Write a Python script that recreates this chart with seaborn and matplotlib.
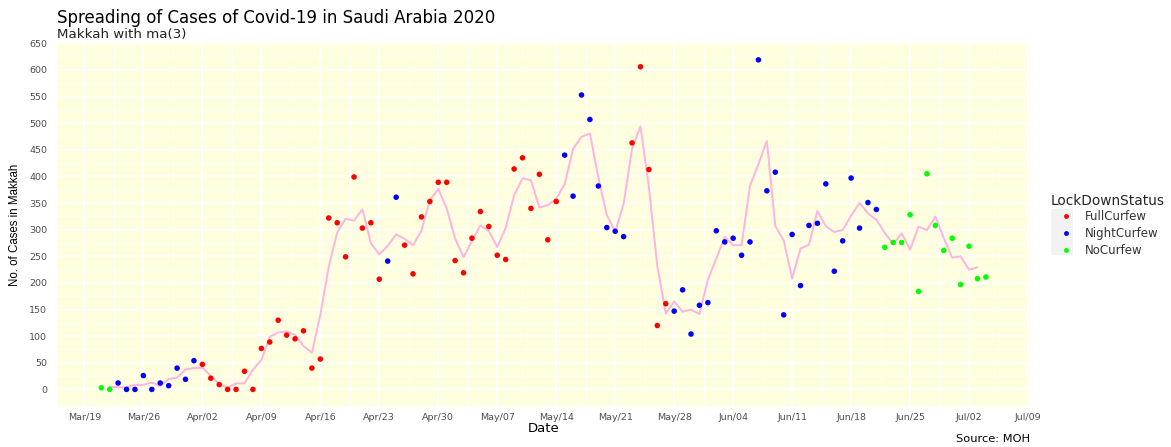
import pandas as pd
import numpy as np
import seaborn as sns
import matplotlib.pyplot as plt
import matplotlib.dates as mdates
from matplotlib.patches import Rectangle

# daily new cases in Makkah, 2020-03-21 .. 2020-07-04
start_date = "2020-03-21"
cases = [3, 0, 12, 0, 0, 26, 0, 12, 7, 40, 19, 54,
         47, 21, 9, 0, 0, 34, 0, 77, 89, 130, 102, 95, 110, 40, 57,
         322, 313, 249, 399, 303, 313, 207, 241, 361, 271, 217, 324, 353, 389,
         389, 242, 219, 284, 334, 306, 252, 244, 414, 435, 340, 404, 281, 353,
         440, 363, 553, 507, 382, 304, 297, 287,
         463, 606, 413, 120, 161,
         147, 187, 104, 158, 163, 298, 277, 284, 252, 277, 619, 373, 408, 140,
         291, 195, 308, 312, 386, 222, 279, 397, 303, 351, 338,
         267, 276, 276, 328, 184, 405, 308, 261, 284, 197, 269, 208, 211]

status = (["NoCurfew"] * 2 + ["NightCurfew"] * 10 + ["FullCurfew"] * 22
          + ["NightCurfew"] * 2 + ["FullCurfew"] * 19 + ["NightCurfew"] * 8
          + ["FullCurfew"] * 5 + ["NightCurfew"] * 25 + ["NoCurfew"] * 13)

status_levels = ["FullCurfew", "NightCurfew", "NoCurfew"]
status_colors = ["#FF0000", "#0000FF", "#00FF00"]

df = pd.DataFrame({
    "Date": pd.date_range(start_date, periods=len(cases), freq="D"),
    "Cases": cases,
    "LockDownStatus": status,
})
df["ma3"] = df["Cases"].rolling(3, center=True).mean()

sns.set_style("white")
plt.rcParams["font.family"] = ["DejaVu Sans"]

fig = plt.figure(figsize=(11.71, 4.47), dpi=100)
ax = fig.add_axes([0.0487, 0.092, 0.831, 0.811])
ax.set_facecolor("#FFFFE0")

sns.scatterplot(data=df, x="Date", y="Cases", hue="LockDownStatus",
                hue_order=status_levels, palette=status_colors,
                s=16, edgecolor="none", ax=ax, zorder=3, legend=False)
sns.lineplot(data=df, x="Date", y="ma3", color="#FFB3DE", lw=1.4, ax=ax, zorder=2)

# axis limits with ggplot-like 5% expansion
d0, d1 = df["Date"].min(), df["Date"].max()
span = d1 - d0
ax.set_xlim(d0 - span * 0.05, d1 + span * 0.05)
ymax = max(cases)
ax.set_ylim(-ymax * 0.05, ymax * 1.05)

xt = pd.date_range("2020-03-19", "2020-07-09", freq="7D")
ax.set_xticks(xt)
ax.set_xticks(xt[:-1] + pd.Timedelta(hours=84), minor=True)
ax.xaxis.set_major_formatter(mdates.DateFormatter("%b/%d"))
ax.set_yticks(np.arange(0, 651, 50))
ax.set_yticks(np.arange(25, 651, 50), minor=True)

ax.grid(True, which="major", color="white", lw=1.1)
ax.grid(True, which="minor", color="white", lw=0.5)
ax.set_axisbelow(True)
for sp in ax.spines.values():
    sp.set_visible(False)
ax.tick_params(which="major", length=3, width=0.8, color="#333333",
               labelsize=6.8, labelcolor="#4D4D4D")
ax.tick_params(axis="x", pad=2)
ax.tick_params(axis="y", pad=4)
ax.tick_params(which="minor", length=0)

ax.set_xlabel("Date", fontsize=9.5, color="black", labelpad=0)
ax.set_ylabel("No. of Cases in Makkah", fontsize=8.3, color="black", labelpad=6,
              family=["Liberation Sans", "DejaVu Sans"])

fig.text(0.0487, 0.9485, "Spreading of Cases of Covid-19 in Saudi Arabia 2020",
         fontsize=12, ha="left", va="baseline", color="black")
fig.text(0.0487, 0.916, "Makkah with ma(3)", fontsize=9.6, ha="left",
         va="baseline", color="#222222")
fig.text(0.8796, 0.012, "Source: MOH", fontsize=8.2, ha="right",
         va="baseline", color="black")

# legend drawn like ggplot: title + keys on a light grey key strip
fig.text(0.8975, 0.541, "LockDownStatus", fontsize=9.9, ha="left", va="baseline")
fig.patches.append(Rectangle((0.8975, 0.4295), 0.0188, 0.103,
                             transform=fig.transFigure, facecolor="#F2F2F2",
                             edgecolor="none", zorder=0))
handles = [plt.Line2D([], [], ls="", marker="o", ms=3.5, mec="none", color=c)
           for c in status_colors]
fig.legend(handles, status_levels, loc="upper left",
           bbox_to_anchor=(0.8935, 0.553), frameon=False, fontsize=8.5,
           handlelength=1.6, handletextpad=0.75, labelspacing=0.32,
           labelcolor="#333333")

fig.savefig("out.png", dpi=100)
